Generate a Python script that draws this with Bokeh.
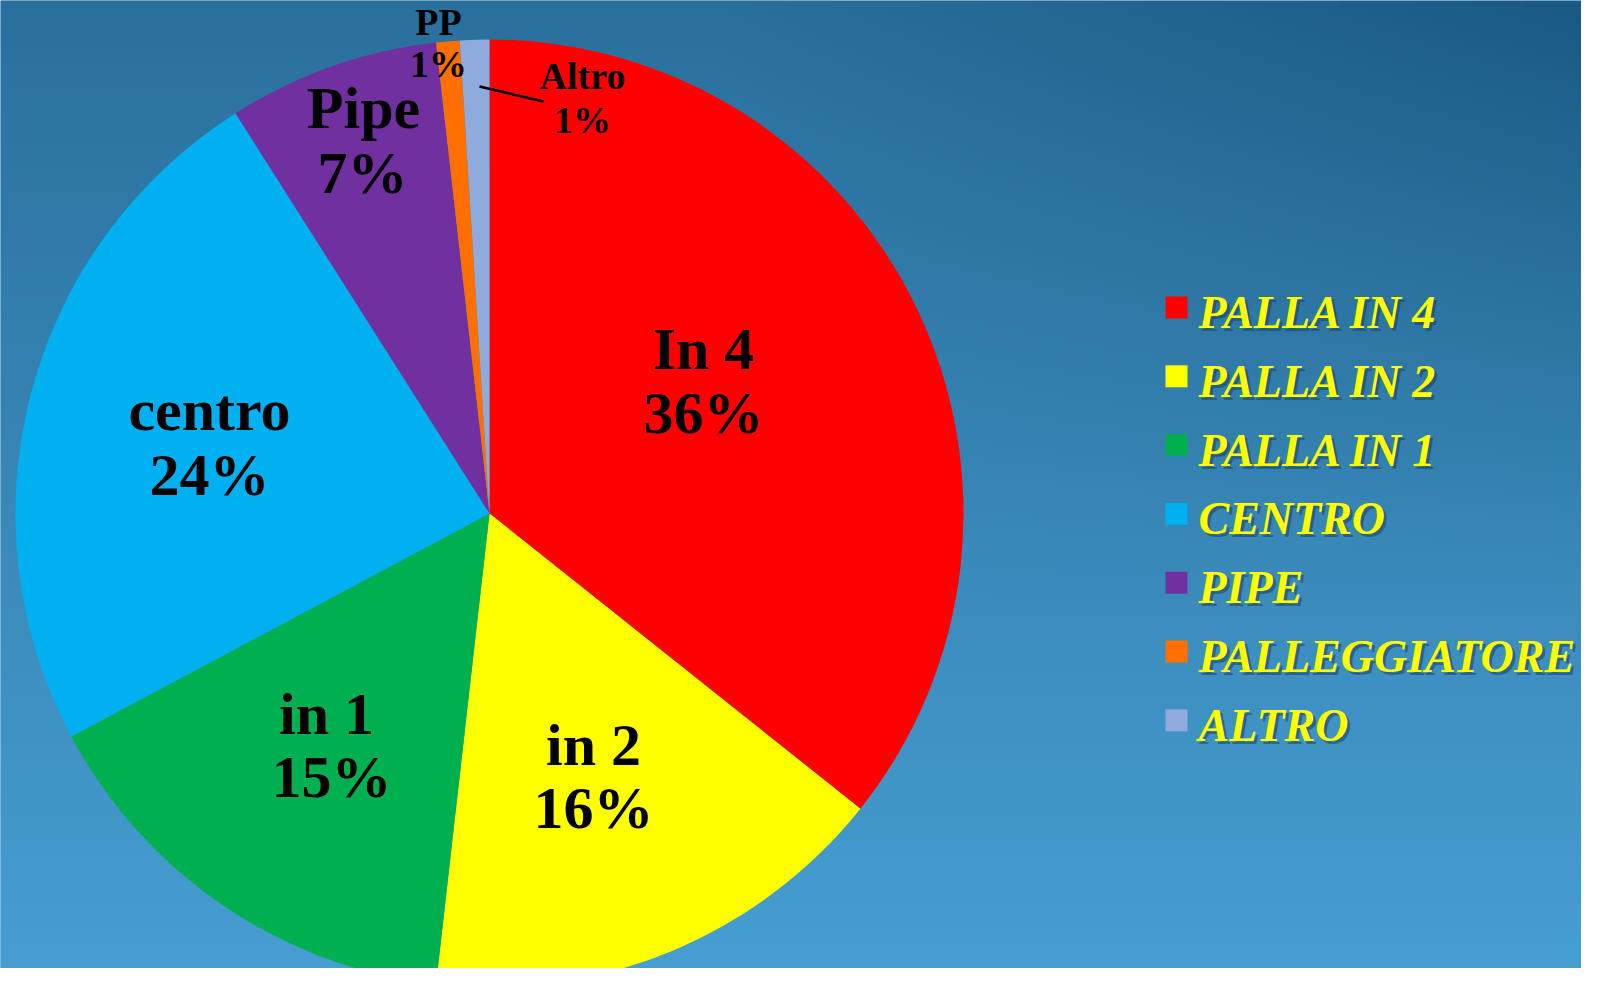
import numpy as np
from bokeh.plotting import figure
from bokeh.models import Range1d, ColumnDataSource
from bokeh.core.properties import value
from bokeh.embed import file_html
from bokeh.resources import INLINE

# ---------------- data ----------------
slice_labels = ["In 4", "in 2", "in 1", "centro", "Pipe", "PP", "Altro"]
legend_labels = ["PALLA IN 4", "PALLA IN 2", "PALLA IN 1", "CENTRO", "PIPE",
                 "PALLEGGIATORE", "ALTRO"]
shares = [35.7, 16.1, 15.4, 23.8, 7.2, 0.8, 1.0]
colors = ["#ff0000", "#ffff00", "#00b050", "#00b0f0", "#7030a0", "#ff7000", "#8faadc"]

# ---------------- layout ----------------
W, H = 1581, 968
CX, CY, R = 489, 455, 474
# label anchor points (figure px, y from bottom): name line, percent line
label_x = [703, 593, 326, 209, 363, 438, 582]
pct_x = [703, 593, 331, 209, 362, 438, 582]
name_y = [620, 224, 255, 559, 861, 947, 893]
pct_y = [556, 161, 192, 494, 796, 905, 849]
label_size = ["60px", "60px", "60px", "60px", "60px", "38px", "38px"]

p = figure(width=W, height=H, x_range=Range1d(0, W), y_range=Range1d(0, H),
           output_backend="svg", toolbar_location=None,
           x_axis_location=None, y_axis_location=None, min_border=0)
p.grid.visible = False
p.outline_line_color = None
p.background_fill_color = "#3585b5"
p.border_fill_color = "#3585b5"

# background gradient (image row 0 is the bottom)
gh, gw = 121, 198
yy, xx = np.mgrid[0:gh, 0:gw]
t = yy / (gh - 1)                # 0 at bottom, 1 at top
u = xx / (gw - 1)
top = np.array([0x2a, 0x70, 0x9d], dtype=float)
bot = np.array([0x46, 0x9e, 0xd1], dtype=float)
col = bot[None, None, :] * (1 - t[..., None]) + top[None, None, :] * t[..., None]
dark = np.clip((u - 0.45) / 0.55, 0, 1) * np.clip((t - 0.35) / 0.65, 0, 1)
col = col - dark[..., None] * np.array([16, 22, 26])
img = np.empty((gh, gw), dtype=np.uint32)
v = img.view(dtype=np.uint8).reshape((gh, gw, 4))
v[..., 0] = np.clip(col[..., 0], 0, 255)
v[..., 1] = np.clip(col[..., 1], 0, 255)
v[..., 2] = np.clip(col[..., 2], 0, 255)
v[..., 3] = 255
p.image_rgba(image=[img], x=0, y=0, dw=W, dh=H)

# wedges
frac = np.array(shares) / sum(shares)
cum = np.concatenate([[0], np.cumsum(frac)])
starts = np.pi / 2 - cum[:-1] * 2 * np.pi
ends = np.pi / 2 - cum[1:] * 2 * np.pi
src = ColumnDataSource(dict(start=starts, end=ends, color=colors, name=slice_labels))
p.wedge(x=CX, y=CY, radius=R, start_angle="start", end_angle="end",
        direction="clock", fill_color="color", line_color=None, source=src)

# slice labels
pcts = [f"{s:.0f}%" for s in shares]
lsrc = ColumnDataSource(dict(x=label_x, px=pct_x, ny=name_y, py=pct_y, name=slice_labels,
                             pct=pcts, size=label_size))
for xcol, ycol, tcol in (("x", "ny", "name"), ("px", "py", "pct")):
    p.text(x=xcol, y=ycol, text=tcol, source=lsrc, text_font=value("Liberation Serif"),
           text_font_style="bold", text_font_size="size", text_color="black",
           text_align="center", text_baseline="middle")

# leader line for "Altro"
p.segment(x0=[479], y0=[882], x1=[543], y1=[867], line_color="black", line_width=2.5)

# legend (manual for text shadow)
leg_x = 1176
leg_y = [661 - i * 68.8 for i in range(len(legend_labels))]
n = len(legend_labels)
gsrc = ColumnDataSource(dict(x=[leg_x] * n, y=leg_y, color=colors,
                             label=legend_labels,
                             tx=[leg_x + 22] * n,
                             ty=[y - 5 for y in leg_y],
                             sx=[leg_x + 25] * n,
                             sy=[y - 8 for y in leg_y]))
p.scatter(x="x", y="y", marker="square", size=22, fill_color="color",
          line_color=None, source=gsrc)
p.text(x="sx", y="sy", text="label", source=gsrc, text_font=value("Liberation Serif"),
       text_font_style="bold italic", text_font_size="46px", text_color="#1b3f5e",
       text_alpha=0.55, text_align="left", text_baseline="middle")
p.text(x="tx", y="ty", text="label", source=gsrc, text_font=value("Liberation Serif"),
       text_font_style="bold italic", text_font_size="46px", text_color="#ffff00",
       text_align="left", text_baseline="middle")

open("out.html", "w").write(file_html(p, INLINE))
